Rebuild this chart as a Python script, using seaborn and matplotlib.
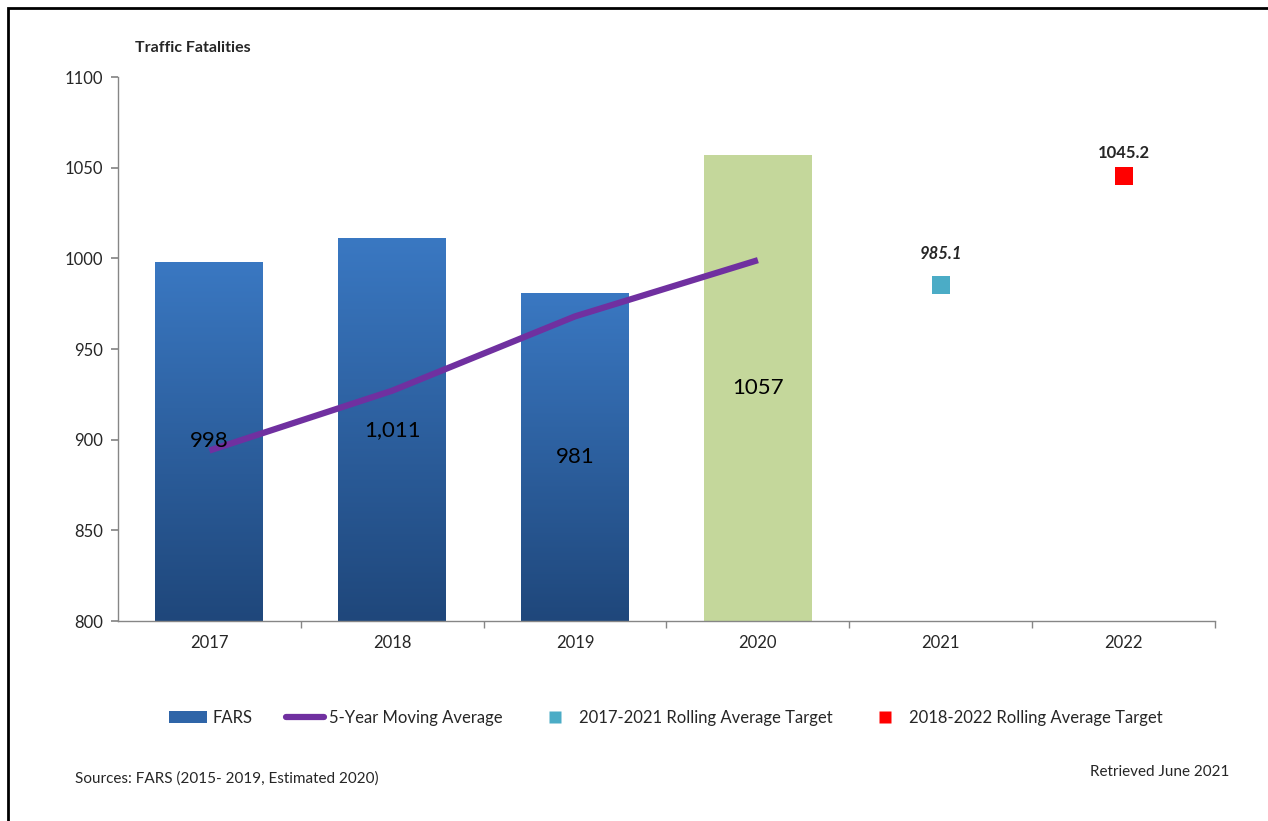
import numpy as np
import pandas as pd
import matplotlib
matplotlib.use("Agg")
import matplotlib.pyplot as plt
import seaborn as sns
from matplotlib.patches import Rectangle, Patch
from matplotlib.lines import Line2D

# ---- data ----
years = ["2017", "2018", "2019", "2020", "2021", "2022"]
fars_years = ["2017", "2018", "2019", "2020"]
fars_values = [998, 1011, 981, 1057]
fars_labels = ["998", "1,011", "981", "1057"]
ma_years = ["2017", "2018", "2019", "2020"]
ma_values = [894, 927, 968, 999]
target1_year = ["2021"]
target1_value = [985.1]
target2_year = ["2022"]
target2_value = [1045.2]
yticks = [800, 850, 900, 950, 1000, 1050, 1100]

sns.set_theme(style="white")
plt.rcParams['font.family'] = ['Lato', 'DejaVu Sans']

fig = plt.figure(figsize=(12.68, 8.21), dpi=100)
ax = fig.add_axes([118/1268, 1-621/821, (1215-118)/1268, (621-77)/821])

df = pd.DataFrame({"year": fars_years, "value": fars_values})
bar_colors = ["#2f65a8", "#2f65a8", "#2f65a8", "#c4d79b"]
sns.barplot(data=df, x="year", y="value", order=years, hue="year",
            palette=dict(zip(fars_years, bar_colors)), width=0.59,
            legend=False, ax=ax, saturation=1, edgecolor="none")

ax.set_ylim(800, 1100)
ax.set_xlim(-0.5, 5.5)

# gradient overlay for the blue bars
grad = np.linspace(0, 1, 256).reshape(-1, 1)
cmap = matplotlib.colors.LinearSegmentedColormap.from_list("g", ["#1f477b", "#3a78c2"])
for patch, yr in zip(ax.patches, fars_years):
    if yr == "2020":
        continue
    x0, y0 = patch.get_x(), patch.get_y()
    w, h = patch.get_width(), patch.get_height()
    im = ax.imshow(grad, cmap=cmap, aspect="auto", origin="lower",
                   extent=[x0, x0 + w, 800, y0 + h], zorder=patch.get_zorder() + 0.1)
    im.set_clip_path(patch)

pos = {y: i for i, y in enumerate(years)}

# bar labels
for yr, v, lab in zip(fars_years, fars_values, fars_labels):
    ax.text(pos[yr], (800 + v) / 2, lab, ha="center", va="center", fontsize=16,
            color="black", zorder=5)

# moving average line
ma_df = pd.DataFrame({"x": [pos[y] for y in ma_years], "v": ma_values})
sns.lineplot(data=ma_df, x="x", y="v", color="#7030a0", linewidth=4.5, ax=ax,
             zorder=4, solid_capstyle="butt")

# targets
t1 = pd.DataFrame({"x": [pos[y] for y in target1_year], "v": target1_value})
t2 = pd.DataFrame({"x": [pos[y] for y in target2_year], "v": target2_value})
sns.scatterplot(data=t1, x="x", y="v", marker="s", s=170, color="#4bacc6",
                edgecolor="none", ax=ax, zorder=5)
sns.scatterplot(data=t2, x="x", y="v", marker="s", s=170, color="#ff0000",
                edgecolor="none", ax=ax, zorder=5)
ax.annotate(f"{target1_value[0]:.1f}", (pos[target1_year[0]], target1_value[0]),
            xytext=(0, 17), textcoords="offset points", ha="center", va="bottom",
            fontsize=12, fontweight="bold", fontstyle="italic")
ax.annotate(f"{target2_value[0]:.1f}", (pos[target2_year[0]], target2_value[0]),
            xytext=(0, 11), textcoords="offset points", ha="center", va="bottom",
            fontsize=12, fontweight="bold")

# axes styling
ax.set_xlabel("")
ax.set_ylabel("")
ax.set_yticks(yticks)
ax.set_xticks(range(len(years)))
ax.set_xticklabels(years)
ax.set_xticks(np.arange(0.5, 6, 1.0), minor=True)
ax.tick_params(axis="x", which="major", length=0, labelsize=12, pad=10)
ax.tick_params(axis="x", which="minor", length=5, color="#868686", direction="out", bottom=True)
ax.tick_params(axis="y", which="major", length=5, color="#868686", direction="out",
               left=True, labelsize=12, pad=6)
for s in ["top", "right"]:
    ax.spines[s].set_visible(False)
for s in ["left", "bottom"]:
    ax.spines[s].set_color("#868686")
    ax.spines[s].set_linewidth(1)
ax.grid(False)

# legend
handles = [
    Patch(facecolor="#2f65a8", edgecolor="none"),
    Line2D([0], [0], color="#7030a0", linewidth=4.5),
    Line2D([0], [0], marker="s", color="none", markerfacecolor="#4bacc6",
           markeredgecolor="none", markersize=9),
    Line2D([0], [0], marker="s", color="none", markerfacecolor="#ff0000",
           markeredgecolor="none", markersize=9),
]
labels = ["FARS", "5-Year Moving Average", "2017-2021 Rolling Average Target",
          "2018-2022 Rolling Average Target"]
fig.legend(handles, labels, loc="center", bbox_to_anchor=(666/1268, 1-718/821),
           ncol=4, frameon=False, fontsize=12, columnspacing=2.0,
           handlelength=2.3, handletextpad=0.3)

# texts
fig.text(135/1268, 1-48/821, "Traffic Fatalities", fontsize=11.5, fontweight="bold",
         ha="left", va="center")
fig.text(75/1268, 1-779/821, "Sources: FARS (2015- 2019, Estimated 2020)", fontsize=11,
         ha="left", va="center")
fig.text(1229/1268, 1-772/821, "Retrieved June 2021", fontsize=11,
         ha="right", va="center")

# outer border
fig.patches.append(Rectangle((8/1268, -0.01), 1.02, 1 - 8/821 + 0.01,
                             transform=fig.transFigure, fill=False,
                             edgecolor="black", linewidth=2))

fig.savefig("out.png", dpi=100)
